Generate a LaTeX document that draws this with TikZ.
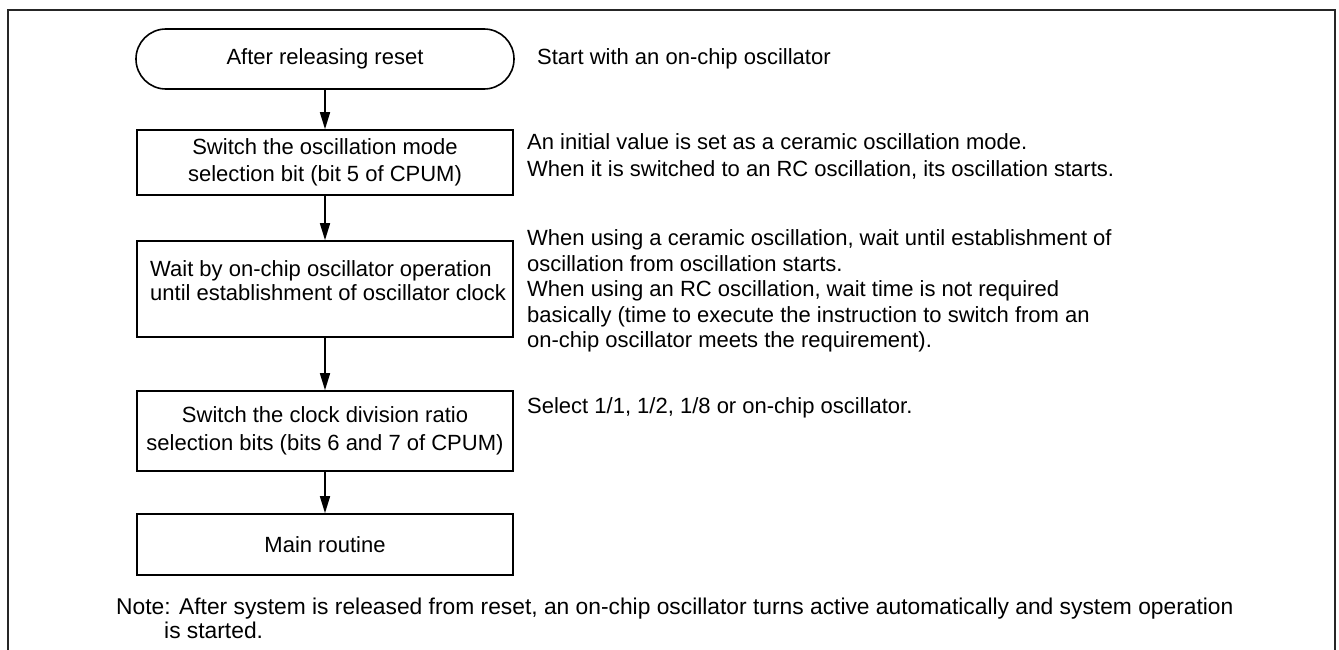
\documentclass[tikz,border=0pt]{standalone}
\usepackage{fontspec}
\setmainfont{Liberation Sans}
\usetikzlibrary{arrows.meta}
\tikzset{
  txt/.style={font=\fontsize{22}{25.5}\selectfont, inner sep=0pt, text=black},
  box/.style={txt, draw=black, line width=1.6pt, rectangle, minimum width=376pt, align=center},
  term/.style={txt, draw=black, line width=1.6pt, rectangle, rounded corners=29.9pt, minimum width=378pt, minimum height=60pt},
  arr/.style={draw=black, line width=1.6pt, -{Triangle[length=17pt,width=10pt]}},
  frame/.style={draw=black!85, line width=2.6pt},
  note/.style={txt, anchor=west, align=left}
}
\begin{document}
\begin{tikzpicture}[x=1pt,y=-1pt]
\useasboundingbox (0,0) rectangle (1339,650);
\draw[frame] (8,652) -- (8,10) -- (1335,10) -- (1335,652);

\node[term] (t) at (325,59) {After releasing reset};
\node[box, minimum height=65pt, font=\fontsize{22}{27.5}\selectfont] (b1) at (325,162.5) {Switch the oscillation mode\\selection bit (bit 5 of CPUM)};
\node[box, minimum height=96pt] (b2) at (325,289) {};
\node[note, font=\fontsize{22}{24.5}\selectfont] (b2t) at (150,280.5) {Wait by on-chip oscillator operation\\until establishment of oscillator clock};
\node[box, minimum height=80pt, font=\fontsize{22}{27.5}\selectfont] (b3) at (325,431) {Switch the clock division ratio\\selection bits (bits 6 and 7 of CPUM)};
\node[box, minimum height=61pt] (m) at (325,544.5) {Main routine};

\draw[arr] (t) -- (b1);
\draw[arr] (b1) -- (b2);
\draw[arr] (b2) -- (b3);
\draw[arr] (b3) -- (m);

\node[note] (n0) at (537,59) {Start with an on-chip oscillator};
\node[note, font=\fontsize{22}{27}\selectfont] (n1) at (527,156.5) {An initial value is set as a ceramic oscillation mode.\\When it is switched to an RC oscillation, its oscillation starts.};
\node[note] (n2) at (527,291) {When using a ceramic oscillation, wait until establishment of\\oscillation from oscillation starts.\\When using an RC oscillation, wait time is not required\\basically (time to execute the instruction to switch from an\\on-chip oscillator meets the requirement).};
\node[note] (n3) at (527,408) {Select 1/1, 1/2, 1/8 or on-chip oscillator.};
\node[note, font=\fontsize{22.8}{24}\selectfont] (nn) at (116,618) {Note: After system is released from reset, an on-chip oscillator turns active automatically and system operation\\\hspace*{48pt}is started.};
\end{tikzpicture}
\end{document}
